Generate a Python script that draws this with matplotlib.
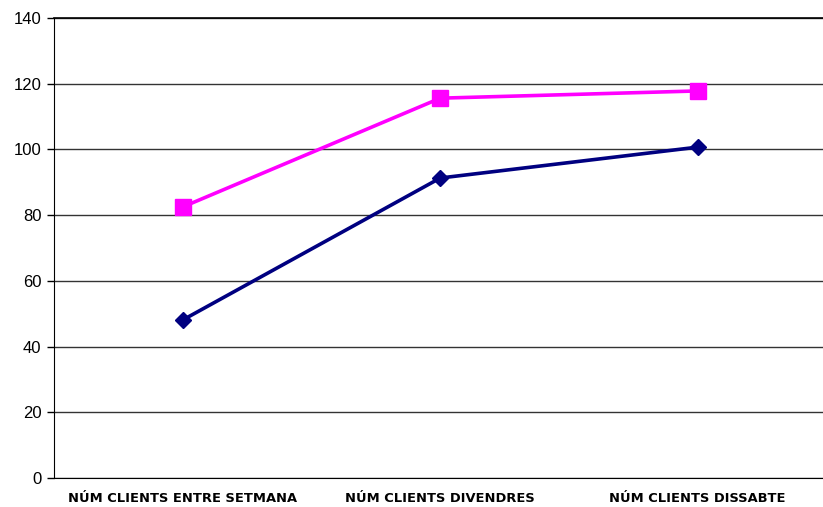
import matplotlib.pyplot as plt
import numpy as np

categories = ["NÚM CLIENTS ENTRE SETMANA", "NÚM CLIENTS DIVENDRES", "NÚM CLIENTS DISSABTE"]
serie_rosa = [82.5, 115.6, 117.8]
serie_blava = [48.1, 91.3, 100.7]
y_ticks = [0, 20, 40, 60, 80, 100, 120, 140]

fig = plt.figure(figsize=(8.23, 5.07), dpi=100)
ax = fig.add_axes([54/823, 1 - 478/507, 772.5/823, 460/507])

x = np.arange(len(categories))
ax.plot(x, serie_blava, color="#000080", linewidth=2.6, marker="D", markersize=8.5, zorder=3)
ax.plot(x, serie_rosa, color="#FF00FF", linewidth=2.6, marker="s", markersize=11, zorder=3)

ax.set_xlim(-0.5, 2.5)
ax.set_ylim(0, 140)
ax.set_yticks(y_ticks)
ax.set_yticklabels([str(t) for t in y_ticks], fontfamily="Liberation Sans", fontsize=12)
ax.set_xticks(x)
ax.set_xticklabels(categories, fontfamily="DejaVu Sans", fontweight="bold", fontsize=9.4)
ax.tick_params(axis="x", length=0, pad=10)
ax.tick_params(axis="y", length=5, width=1, color="black", pad=4)

ax.grid(axis="y", color="#333333", linewidth=1)
ax.set_axisbelow(True)
for s in ["top", "right"]:
    ax.spines[s].set_visible(False)
ax.spines["left"].set_color("black")
ax.spines["bottom"].set_color("black")
ax.axhline(140, color="black", linewidth=1.2, clip_on=False)

fig.savefig("out.png", dpi=100)
